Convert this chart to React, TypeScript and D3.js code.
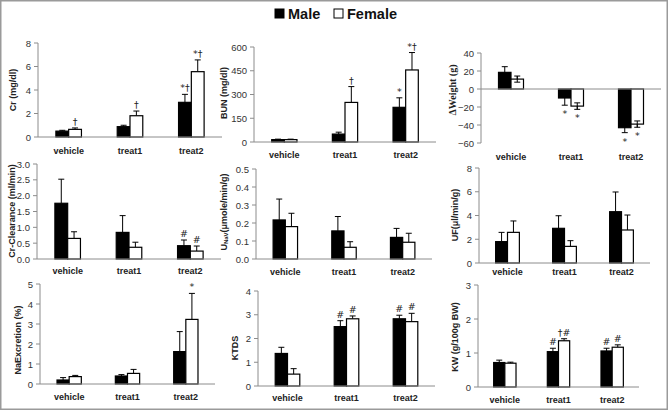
import React from "react";
import * as d3 from "d3";

const categories = ["vehicle", "treat1", "treat2"];
const sexes = ["Male", "Female"];

// Cr (mg/dl)
const crMale = [0.5, 0.88, 2.95];
const crMaleErr = [0.07, 0.12, 0.68];
const crFemale = [0.65, 1.81, 5.56];
const crFemaleErr = [0.12, 0.4, 1.0];
const crMaleMarks = ["", "", "*†"];
const crFemaleMarks = ["†", "†", "*†"];
const crTicks = [0, 2, 4, 6, 8];

// BUN (mg/dl)
const bunMale = [15, 50, 219];
const bunMaleErr = [3, 12, 60];
const bunFemale = [15, 250, 455];
const bunFemaleErr = [3, 100, 110];
const bunMaleMarks = ["", "", "*"];
const bunFemaleMarks = ["", "†", "*†"];
const bunTicks = [0, 150, 300, 450, 600];

// ΔWeight (g)
const wtMale = [18.5, -10, -43];
const wtMaleErr = [6.3, 8, 5.5];
const wtFemale = [11, -19, -39];
const wtFemaleErr = [3.4, 3.6, 3.5];
const wtMaleMarks = ["", "*", "*"];
const wtFemaleMarks = ["", "*", "*"];
const wtTicks = [-60, -40, -20, 0, 20, 40];

// Cr-Clearance (ml/min)
const ccMale = [1.76, 0.84, 0.42];
const ccMaleErr = [0.76, 0.53, 0.18];
const ccFemale = [0.65, 0.37, 0.25];
const ccFemaleErr = [0.21, 0.16, 0.16];
const ccMaleMarks = ["", "", "#"];
const ccFemaleMarks = ["", "", "#"];
const ccTicks = [0, 0.5, 1.0, 1.5, 2.0, 2.5, 3.0];

// UNaV (µmole/min/g)
const unMale = [0.217, 0.156, 0.12];
const unMaleErr = [0.116, 0.08, 0.05];
const unFemale = [0.18, 0.065, 0.093];
const unFemaleErr = [0.074, 0.031, 0.05];
const unMaleMarks = ["", "", ""];
const unFemaleMarks = ["", "", ""];
const unTicks = [0, 0.1, 0.2, 0.3, 0.4, 0.5];

// UF (µl/min/g)
const ufMale = [1.8, 2.92, 4.32];
const ufMaleErr = [0.78, 1.06, 1.66];
const ufFemale = [2.58, 1.4, 2.78];
const ufFemaleErr = [0.96, 0.48, 1.26];
const ufMaleMarks = ["", "", ""];
const ufFemaleMarks = ["", "", ""];
const ufTicks = [0, 2, 4, 6, 8];

// NaExcretion (%)
const naMale = [0.2, 0.4, 1.62];
const naMaleErr = [0.12, 0.07, 1.0];
const naFemale = [0.37, 0.53, 3.23];
const naFemaleErr = [0.06, 0.2, 1.3];
const naMaleMarks = ["", "", ""];
const naFemaleMarks = ["", "", "*"];
const naTicks = [0, 1, 2, 3, 4, 5];

// KTDS
const ktMale = [1.37, 2.5, 2.83];
const ktMaleErr = [0.26, 0.25, 0.15];
const ktFemale = [0.5, 2.83, 2.71];
const ktFemaleErr = [0.23, 0.12, 0.35];
const ktMaleMarks = ["", "#", "#"];
const ktFemaleMarks = ["", "#", "#"];
const ktTicks = [0, 1, 2, 3, 4];

// KW (g/100g BW)
const kwMale = [0.72, 1.04, 1.06];
const kwMaleErr = [0.07, 0.1, 0.08];
const kwFemale = [0.7, 1.36, 1.17];
const kwFemaleErr = [0.03, 0.06, 0.07];
const kwMaleMarks = ["", "#", "#"];
const kwFemaleMarks = ["", "†#", "#"];
const kwTicks = [0, 1, 2, 3];

type Panel = {
  title: React.ReactNode;
  male: number[]; maleErr: number[]; female: number[]; femaleErr: number[];
  maleMarks: string[]; femaleMarks: string[];
  ticks: number[]; fmt: string; twoSided?: boolean; titleFont?: string;
  x0: number; x1: number; yTop: number; yBot: number; labelY: number; tx: number; ty: number;
};

const panels: Panel[] = [
  { title: "Cr (mg/dl)", male: crMale, maleErr: crMaleErr, female: crFemale, femaleErr: crFemaleErr, maleMarks: crMaleMarks, femaleMarks: crFemaleMarks, ticks: crTicks, fmt: "d",
    x0: 38, x1: 222, yTop: 43, yBot: 137, labelY: 151, tx: 13, ty: 90 },
  { title: "BUN (mg/dl)", male: bunMale, maleErr: bunMaleErr, female: bunFemale, femaleErr: bunFemaleErr, maleMarks: bunMaleMarks, femaleMarks: bunFemaleMarks, ticks: bunTicks, fmt: "d",
    x0: 254, x1: 436, yTop: 47, yBot: 142, labelY: 155, tx: 224, ty: 93 },
  { title: "ΔWeight (g)", male: wtMale, maleErr: wtMaleErr, female: wtFemale, femaleErr: wtFemaleErr, maleMarks: wtMaleMarks, femaleMarks: wtFemaleMarks, ticks: wtTicks, fmt: "d", twoSided: true,
    titleFont: "'Liberation Serif', 'Times New Roman', serif",
    x0: 481, x1: 661, yTop: 53, yBot: 143, labelY: 157, tx: 452, ty: 90 },
  { title: "Cr-Clearance (ml/min)", male: ccMale, maleErr: ccMaleErr, female: ccFemale, femaleErr: ccFemaleErr, maleMarks: ccMaleMarks, femaleMarks: ccFemaleMarks, ticks: ccTicks, fmt: ".1f",
    x0: 37, x1: 221, yTop: 164, yBot: 259, labelY: 271, tx: 12, ty: 211 },
  { title: (<>U<tspan fontSize="6" dy="2">NaV</tspan><tspan dy="-2">(μmole/min/g)</tspan></>), male: unMale, maleErr: unMaleErr, female: unFemale, femaleErr: unFemaleErr, maleMarks: unMaleMarks, femaleMarks: unFemaleMarks, ticks: unTicks, fmt: ".1f",
    x0: 256, x1: 432, yTop: 169, yBot: 259, labelY: 272, tx: 224, ty: 212 },
  { title: "UF(μl/min/g)", male: ufMale, maleErr: ufMaleErr, female: ufFemale, femaleErr: ufFemaleErr, maleMarks: ufMaleMarks, femaleMarks: ufFemaleMarks, ticks: ufTicks, fmt: "d",
    x0: 479, x1: 650, yTop: 168, yBot: 263, labelY: 272, tx: 455, ty: 215 },
  { title: "NaExcretion (%)", male: naMale, maleErr: naMaleErr, female: naFemale, femaleErr: naFemaleErr, maleMarks: naMaleMarks, femaleMarks: naFemaleMarks, ticks: naTicks, fmt: "d",
    x0: 40, x1: 215, yTop: 284, yBot: 384, labelY: 397, tx: 18, ty: 340 },
  { title: "KTDS", male: ktMale, maleErr: ktMaleErr, female: ktFemale, femaleErr: ktFemaleErr, maleMarks: ktMaleMarks, femaleMarks: ktFemaleMarks, ticks: ktTicks, fmt: "d",
    x0: 258, x1: 435, yTop: 291, yBot: 386, labelY: 398, tx: 235, ty: 348 },
  { title: "KW (g/100g BW)", male: kwMale, maleErr: kwMaleErr, female: kwFemale, femaleErr: kwFemaleErr, maleMarks: kwMaleMarks, femaleMarks: kwFemaleMarks, ticks: kwTicks, fmt: "d",
    x0: 478, x1: 639, yTop: 285, yBot: 387, labelY: 400, tx: 455, ty: 337 },
];

const FONT = "'Liberation Sans', Arial, sans-serif";
const MARKFONT = "'DejaVu Sans', sans-serif";
const AXIS = "#8c8c8c";

function PanelView({ p }: { p: Panel }) {
  const ext = d3.extent(p.ticks) as [number, number];
  const y = d3.scaleLinear().domain(ext).range([p.yBot, p.yTop]);
  const x = d3.scaleBand<string>().domain(categories).range([p.x0, p.x1]).paddingInner(0).paddingOuter(0);
  const xs = d3.scaleBand<string>().domain(sexes).range([0, x.bandwidth()]).paddingInner(0).paddingOuter(1.4);
  const fmt = d3.format(p.fmt);
  const y0 = y(0);
  const cap = 3;
  return (
    <g>
      <line x1={p.x0} x2={p.x0} y1={p.yTop} y2={p.yBot} stroke={AXIS} strokeWidth={1} />
      {p.ticks.map((t) => (
        <g key={t}>
          <line x1={p.x0 - 4} x2={p.x0} y1={y(t)} y2={y(t)} stroke={AXIS} strokeWidth={1} />
          <text x={p.x0 - 7} y={y(t)} textAnchor="end" dominantBaseline="central" fontSize={9.5} fill="#333" fontFamily={FONT}>{fmt(t)}</text>
        </g>
      ))}
      {categories.map((c, i) =>
        sexes.map((s) => {
          const v = s === "Male" ? p.male[i] : p.female[i];
          const e = s === "Male" ? p.maleErr[i] : p.femaleErr[i];
          const mark = s === "Male" ? p.maleMarks[i] : p.femaleMarks[i];
          const bx = (x(c) as number) + (xs(s) as number);
          const bw = xs.bandwidth();
          const cx = bx + bw / 2;
          const top = Math.min(y(v), y0);
          const h = Math.abs(y(v) - y0);
          const ePos = v >= 0 ? v + e : v - e;
          const eNeg = p.twoSided ? (v >= 0 ? v - e : v + e) : v;
          const markY = v >= 0 ? y(v + e) - 3 : y(v - e) + 12;
          return (
            <g key={c + s}>
              <line x1={cx} x2={cx} y1={y(eNeg)} y2={y(ePos)} stroke="#000" strokeWidth={1} />
              <line x1={cx - cap} x2={cx + cap} y1={y(ePos)} y2={y(ePos)} stroke="#000" strokeWidth={1} />
              <rect x={bx} y={top} width={bw} height={h}
                fill={s === "Male" ? "#000" : "#fff"} stroke="#000" strokeWidth={1.2} />
              {p.twoSided && s === "Female" && (
                <>
                  <line x1={cx} x2={cx} y1={y(eNeg)} y2={y(ePos)} stroke="#000" strokeWidth={1} />
                  <line x1={cx - cap} x2={cx + cap} y1={y(eNeg)} y2={y(eNeg)} stroke="#000" strokeWidth={1} />
                </>
              )}
              {mark && (
                <text x={cx} y={markY} textAnchor="middle" fontSize={9.5} fill="#222" fontFamily={MARKFONT}>{mark}</text>
              )}
            </g>
          );
        })
      )}
      <line x1={p.x0} x2={p.x1} y1={y0} y2={y0} stroke={AXIS} strokeWidth={1} />
      {categories.map((c) => (
        <text key={c} x={(x(c) as number) + x.bandwidth() / 2} y={p.labelY} textAnchor="middle" dominantBaseline="central"
          fontSize={9} fontWeight="bold" fill="#222" fontFamily={FONT}>{c}</text>
      ))}
      <text transform={`translate(${p.tx},${p.ty}) rotate(-90)`} textAnchor="middle" dominantBaseline="central"
        fontSize={p.titleFont ? 10 : 9} fontWeight="bold" fill="#222" fontFamily={p.titleFont || FONT}>{p.title}</text>
    </g>
  );
}

export default function App() {
  return (
    <svg width={668} height={411} style={{ position: "absolute", left: 0, top: 0, background: "#fff" }}>
      <rect x={0} y={0} width={668} height={411} fill="#fff" />
      <rect x={0.75} y={0.75} width={666.5} height={408.5} fill="none" stroke="#9a9a9a" strokeWidth={1.5} />
      <g fontFamily={FONT} fontWeight="bold" fontSize={14.5} fill="#111">
        <rect x={275} y={9} width={9} height={9} fill="#000" stroke="#000" />
        <text x={288} y={13.5} dominantBaseline="central">{sexes[0]}</text>
        <rect x={334} y={9} width={9} height={9} fill="#fff" stroke="#000" />
        <text x={347} y={13.5} dominantBaseline="central">{sexes[1]}</text>
      </g>
      {panels.map((p, i) => (
        <PanelView key={i} p={p} />
      ))}
    </svg>
  );
}
